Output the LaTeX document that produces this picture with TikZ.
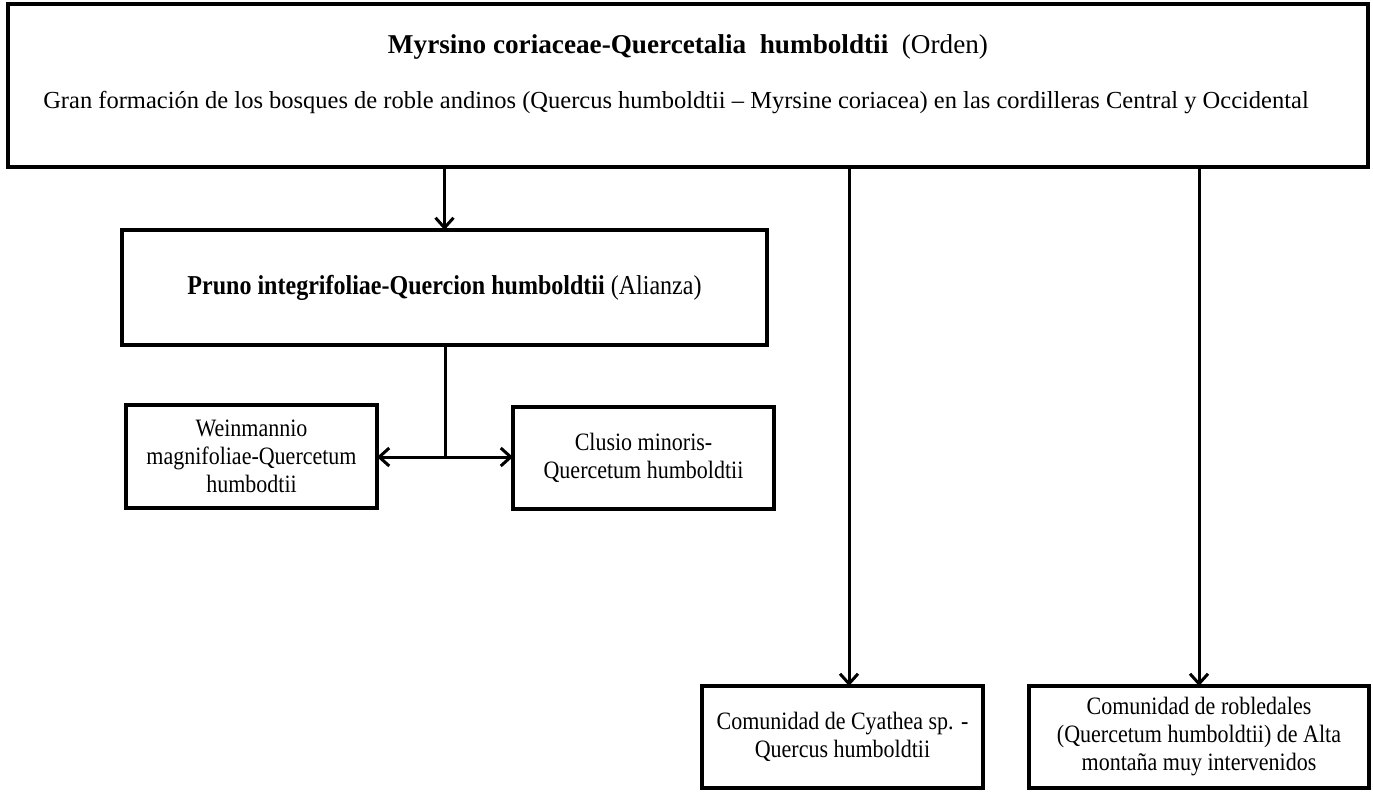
\documentclass[tikz,border=0pt]{standalone}
\usepackage{fontspec}
\setmainfont{Liberation Serif}
\newfontfamily\tallserif{Liberation Serif}[FakeStretch=0.88]
\usetikzlibrary{arrows.meta}
\begin{document}
\begin{tikzpicture}[x=1pt,y=-1pt,
  box/.style={draw, line width=3.1pt, inner sep=0pt, outer sep=0pt},
  link/.style={line width=3pt},
  conn/.style={link, -{Straight Barb[length=10pt,width=18pt]}},
  small/.style={font=\tallserif\fontsize{25}{28}\selectfont, align=center},
  mid/.style={font=\tallserif\fontsize{27.3}{30}\selectfont},
  head/.style={font=\fontsize{27.2}{30}\selectfont},
  desc/.style={font=\fontsize{24.5}{28}\selectfont}]
\useasboundingbox (0,0) rectangle (1373,793);

% order (top level)
\node[box, minimum width=1360pt, minimum height=163pt] (orden) at (688,85.5) {};
\node[head] (ordentitle) at (688,47) {\textbf{Myrsino coriaceae-Quercetalia\ \ humboldtii}\ \ (Orden)};
\node[desc] (ordendesc) at (676,103) {Gran formación de los bosques de roble andinos (Quercus humboldtii -- Myrsine coriacea) en las cordilleras Central y Occidental};

% alliance
\node[box, minimum width=645pt, minimum height=115pt, mid] (pruno) at (444.5,287.5)
  {\textbf{Pruno integrifoliae-Quercion humboldtii} (Alianza)};

% associations
\node[box, minimum width=251pt, minimum height=103pt, small] (weinmannio) at (251.5,456.5)
  {Weinmannio\\magnifoliae-Quercetum\\humbodtii};
\node[box, minimum width=261pt, minimum height=102pt, small] (clusio) at (643.5,458)
  {Clusio minoris-\\Quercetum humboldtii};

% communities
\node[box, minimum width=281pt, minimum height=102pt, small] (cyathea) at (842.5,737)
  {Comunidad de Cyathea sp. -\\Quercus humboldtii};
\node[box, minimum width=340pt, minimum height=102pt, small] (robledales) at (1199,737)
  {Comunidad de robledales\\(Quercetum humboldtii) de Alta\\montaña muy intervenidos};

% connectors
\coordinate (cyx) at (849,0);
\coordinate (j) at (445,457);
\draw[conn] (orden.south -| pruno.north) -- (pruno.north);
\draw[link] (pruno.south -| j) -- (j);
\draw[conn] (j) -- (j -| weinmannio.east);
\draw[conn] (j) -- (j -| clusio.west);
\draw[conn] (orden.south -| cyx) -- (cyathea.north -| cyx);
\draw[conn] (orden.south -| robledales.north) -- (robledales.north);
\end{tikzpicture}
\end{document}
